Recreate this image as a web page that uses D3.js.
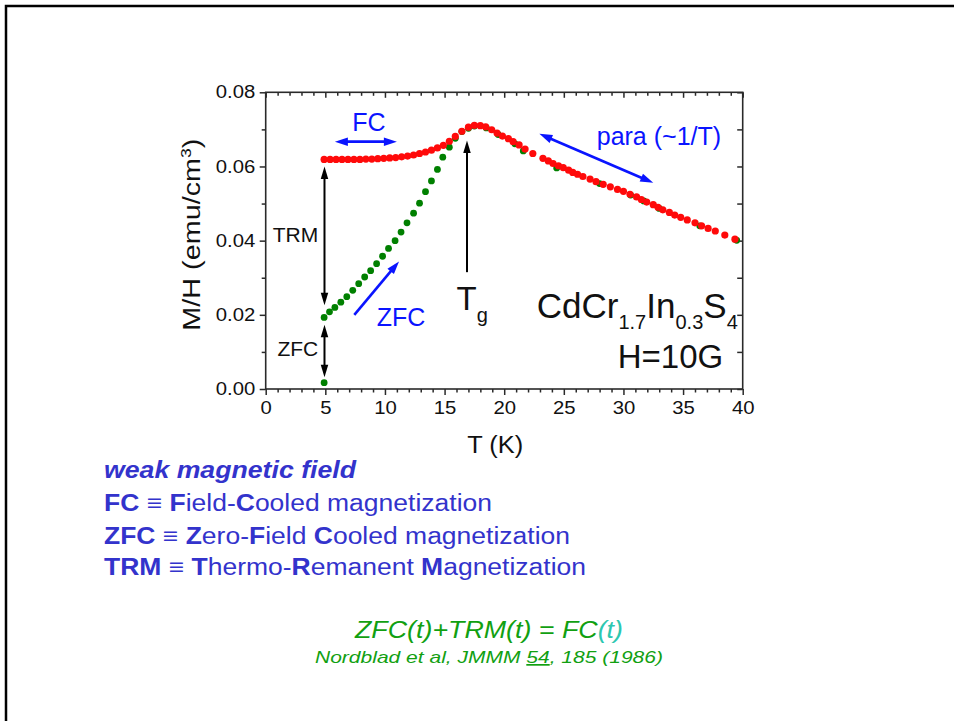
<!DOCTYPE html>
<html>
<head>
<meta charset="utf-8">
<script src="https://cdn.jsdelivr.net/npm/d3@7"></script>
<style>
  body { margin: 0; background: #fff; }
  svg { display: block; font-family: Arial, "Liberation Sans", sans-serif; }
</style>
</head>
<body>
<svg id="chart" width="954" height="721"></svg>
<script>
// Field-cooled magnetization M/H (emu/cm^3) vs temperature T (K)
const fcT = [4.9, 5.4, 5.9, 6.4, 6.9, 7.4, 7.9, 8.4, 8.9, 9.4,
  9.9, 10.4, 10.9, 11.4, 11.9, 12.4, 12.9, 13.4, 13.9, 14.4,
  14.9, 15.4, 15.9, 16.45, 17.0, 17.5, 18.0, 18.45, 18.95, 19.4,
  19.85, 20.35, 20.75, 21.25, 21.75, 22.4, 23.25, 23.7, 24.1, 24.55,
  24.95, 25.4, 25.75, 26.15, 26.6, 27.2, 27.7, 28.3, 28.9, 29.5,
  30.0, 30.55, 31.1, 31.5, 31.95, 32.5, 32.9, 33.3, 33.85, 34.3,
  34.8, 35.35, 36.0, 36.55, 37.1, 37.7, 38.5, 39.35];
const fcM = [0.0619, 0.0619, 0.0619, 0.0619, 0.0619, 0.0619, 0.0619, 0.0620, 0.0620, 0.0621,
  0.0622, 0.0623, 0.0624, 0.0626, 0.0628, 0.0631, 0.0635, 0.0639, 0.0644, 0.0650,
  0.0657, 0.0668, 0.0681, 0.0695, 0.0706, 0.0711, 0.0710, 0.0707, 0.0699, 0.0690,
  0.0682, 0.0675, 0.0667, 0.0658, 0.0647, 0.0635, 0.0622, 0.0615, 0.0608, 0.0602,
  0.0597, 0.0590, 0.0584, 0.0579, 0.0573, 0.0566, 0.0559, 0.0552, 0.0545, 0.0538,
  0.0533, 0.0525, 0.0518, 0.0511, 0.0504, 0.0497, 0.0490, 0.0483, 0.0476, 0.0469,
  0.0463, 0.0456, 0.0448, 0.0440, 0.0433, 0.0426, 0.0415, 0.0404];

// Zero-field-cooled magnetization
const zfcT = [4.9, 4.9, 5.35, 5.8, 6.3, 6.8, 7.3, 7.8, 8.3, 8.8,
  9.3, 9.8, 10.3, 10.85, 11.35, 11.85, 12.4, 12.9, 13.4, 13.9,
  14.4, 14.85, 15.4, 15.9, 16.45, 17.0, 17.5, 18.5, 19.5, 20.9,
  21.6, 24.4, 28.0, 30.6, 31.7, 33.0, 36.4, 39.5];
const zfcM = [0.0017, 0.0193, 0.0208, 0.0220, 0.0234, 0.0249, 0.0266, 0.0284, 0.0302, 0.0319,
  0.0338, 0.0358, 0.0379, 0.0400, 0.0423, 0.0448, 0.0474, 0.0501, 0.0532, 0.0561,
  0.0592, 0.0625, 0.0652, 0.0676, 0.0694, 0.0703, 0.0709, 0.0704, 0.0686, 0.0661,
  0.0642, 0.0596, 0.0554, 0.0523, 0.0507, 0.0487, 0.0440, 0.0401];

const xMajor = [0, 5, 10, 15, 20, 25, 30, 35, 40];
const yMajor = [0.00, 0.02, 0.04, 0.06, 0.08];
const yMinor = [0.01, 0.03, 0.05, 0.07];

const svg = d3.select("#chart");

// slide frame (top and left edges)
svg.append("path")
  .attr("d", "M6,721V6H954")
  .attr("fill", "none").attr("stroke", "#000").attr("stroke-width", 2.5);

const x = d3.scaleLinear().domain([0, 40]).range([265.7, 742.7]);
const y = d3.scaleLinear().domain([0, 0.08]).range([389, 92.3]);

const axisColor = "#2a2a2a";
const tickFont = 17.5;

function styleAxis(sel) {
  sel.select(".domain").remove();
  sel.selectAll(".tick line").attr("stroke", axisColor).attr("stroke-width", 1.5);
  sel.selectAll(".tick text")
    .attr("fill", "#111")
    .style("font-size", tickFont + "px")
    .style("font-family", "Arial, 'Liberation Sans', sans-serif")
    .each(function () {
      // slightly widened numerals
      const w = this.getComputedTextLength();
      if (w > 0) d3.select(this).attr("textLength", w * 1.16).attr("lengthAdjust", "spacingAndGlyphs");
    });
}

const minorX = d3.range(0, 41, 1).filter(d => d % 5 !== 0);

// bottom axis
svg.append("g").attr("transform", `translate(0,${y(0)})`)
  .call(d3.axisBottom(x).tickValues(xMajor).tickSize(6).tickPadding(7).tickFormat(d3.format("d")))
  .call(styleAxis);
svg.append("g").attr("transform", `translate(0,${y(0)})`)
  .call(d3.axisBottom(x).tickValues(minorX).tickSize(3.5).tickFormat(""))
  .call(styleAxis);
// top axis (inward ticks)
svg.append("g").attr("transform", `translate(0,${y(0.08)})`)
  .call(d3.axisTop(x).tickValues(xMajor).tickSize(-5.5).tickFormat(""))
  .call(styleAxis);
svg.append("g").attr("transform", `translate(0,${y(0.08)})`)
  .call(d3.axisTop(x).tickValues(minorX).tickSize(-3.5).tickFormat(""))
  .call(styleAxis);
// left axis
svg.append("g").attr("transform", `translate(${x(0)},0)`)
  .call(d3.axisLeft(y).tickValues(yMajor).tickSize(6).tickPadding(4.5).tickFormat(d3.format(".2f")))
  .call(styleAxis);
svg.append("g").attr("transform", `translate(${x(0)},0)`)
  .call(d3.axisLeft(y).tickValues(yMinor).tickSize(4).tickFormat(""))
  .call(styleAxis);
// right axis (inward ticks)
svg.append("g").attr("transform", `translate(${x(40)},0)`)
  .call(d3.axisRight(y).tickValues(yMajor.concat(yMinor)).tickSize(-5.5).tickFormat(""))
  .call(styleAxis);

// plot frame
svg.append("rect")
  .attr("x", x(0)).attr("y", y(0.08))
  .attr("width", x(40) - x(0)).attr("height", y(0) - y(0.08))
  .attr("fill", "none").attr("stroke", axisColor).attr("stroke-width", 1.6);

// axis titles
svg.append("text")
  .attr("x", (x(0) + x(40)) / 2 - 9).attr("y", 453)
  .attr("text-anchor", "middle").style("font-size", "23px").attr("fill", "#111")
  .attr("textLength", 56).attr("lengthAdjust", "spacingAndGlyphs")
  .text("T (K)");

const yl = svg.append("text")
  .attr("transform", `translate(200,${(y(0) + y(0.08)) / 2 - 6}) rotate(-90)`)
  .attr("text-anchor", "middle").style("font-size", "23px").attr("fill", "#111")
  .attr("textLength", 192).attr("lengthAdjust", "spacingAndGlyphs");
yl.append("tspan").text("M/H (emu/cm");
yl.append("tspan").attr("dy", -9).style("font-size", "14px").text("3");
yl.append("tspan").attr("dy", 9).text(")");

// data points
svg.append("g").selectAll("circle")
  .data(zfcT.map((t, i) => [t, zfcM[i]]))
  .join("circle")
  .attr("cx", d => x(d[0])).attr("cy", d => y(d[1])).attr("r", 3.4)
  .attr("fill", "#008000");
svg.append("g").selectAll("circle")
  .data(fcT.map((t, i) => [t, fcM[i]]))
  .join("circle")
  .attr("cx", d => x(d[0])).attr("cy", d => y(d[1])).attr("r", 3.6)
  .attr("fill", "#ff0a0a");

// arrows with filled heads
function arrow(t1, m1, t2, m2, opt) {
  const x1 = x(t1), y1 = y(m1), x2 = x(t2), y2 = y(m2);
  const len = Math.hypot(x2 - x1, y2 - y1);
  const ux = (x2 - x1) / len, uy = (y2 - y1) / len;
  const hl = opt.headLen, hw = opt.headW / 2;
  const g = svg.append("g");
  const sx1 = opt.start ? x1 + ux * hl * 0.8 : x1, sy1 = opt.start ? y1 + uy * hl * 0.8 : y1;
  const sx2 = opt.end ? x2 - ux * hl * 0.8 : x2, sy2 = opt.end ? y2 - uy * hl * 0.8 : y2;
  g.append("line").attr("x1", sx1).attr("y1", sy1).attr("x2", sx2).attr("y2", sy2)
    .attr("stroke", opt.color).attr("stroke-width", opt.width);
  function head(tx, ty, dx, dy) {
    const bx = tx - dx * hl, by = ty - dy * hl;
    g.append("path")
      .attr("d", `M${tx},${ty}L${bx - dy * hw},${by + dx * hw}L${bx + dy * hw},${by - dx * hw}Z`)
      .attr("fill", opt.color);
  }
  if (opt.end) head(x2, y2, ux, uy);
  if (opt.start) head(x1, y1, -ux, -uy);
}

const black = { color: "#000", width: 2, headLen: 12.5, headW: 7.5 };
const blue = { color: "#0a14ff", width: 2.6, headLen: 13, headW: 8.5 };

arrow(4.93, 0.0226, 4.93, 0.0600, { ...black, start: true, end: true });   // TRM
arrow(4.93, 0.0032, 4.93, 0.0173, { ...black, start: true, end: true });   // ZFC at 5 K
arrow(16.88, 0.0315, 16.88, 0.0670, { ...black, end: true });               // Tg
arrow(5.8, 0.0667, 11.0, 0.0667, { ...blue, start: true, end: true });      // FC
arrow(22.95, 0.0688, 32.5, 0.0556, { ...blue, start: true, end: true });    // para
arrow(7.43, 0.0200, 11.18, 0.0344, { ...blue, end: true });                 // ZFC rise

// annotation labels
function label(t, m, str, size, color, anchor) {
  return svg.append("text").attr("x", x(t)).attr("y", y(m))
    .attr("text-anchor", anchor || "start")
    .style("font-size", size + "px").attr("fill", color).text(str);
}
label(8.65, 0.0696, "FC", 25, "#0a14ff", "middle");
label(27.76, 0.0658, "para (~1/T)", 25, "#0a14ff");
label(9.31, 0.0170, "ZFC", 25, "#0a14ff");
label(4.41, 0.0397, "TRM", 21, "#111", "end");
label(4.41, 0.0089, "ZFC", 21, "#111", "end");

const tg = svg.append("text").attr("x", x(16.0)).attr("y", y(0.0213))
  .style("font-size", "33px").attr("fill", "#111");
tg.append("tspan").text("T");
tg.append("tspan").attr("dy", 12).style("font-size", "20px").text("g");

const cmp = svg.append("text").attr("x", x(22.73)).attr("y", y(0.0191))
  .style("font-size", "35px").attr("fill", "#111");
cmp.append("tspan").text("CdCr");
cmp.append("tspan").attr("dy", 11).style("font-size", "20px").text("1.7");
cmp.append("tspan").attr("dy", -11).text("In");
cmp.append("tspan").attr("dy", 11).style("font-size", "20px").text("0.3");
cmp.append("tspan").attr("dy", -11).text("S");
cmp.append("tspan").attr("dy", 11).style("font-size", "20px").text("4");

label(38.37, 0.00574, "H=10G", 33, "#111", "end");

// definitions below the chart
const defBlue = "#3333cc";
function defLine(yPos, width, parts, style) {
  const t = svg.append("text").attr("x", 104).attr("y", yPos)
    .attr("fill", defBlue).style("font-size", "23px")
    .attr("textLength", width).attr("lengthAdjust", "spacingAndGlyphs");
  if (style) t.style("font-style", style.italic ? "italic" : null);
  parts.forEach(([s, bold]) => t.append("tspan").style("font-weight", bold ? "bold" : "normal").text(s));
  return t;
}
defLine(478, 252, [["weak magnetic field", true]], { italic: true });
defLine(511, 388, [["FC", true], [" \u2261 ", false], ["F", true], ["ield-", false], ["C", true], ["ooled magnetization", false]]);
defLine(544, 466, [["ZFC", true], [" \u2261 ", false], ["Z", true], ["ero-", false], ["F", true], ["ield ", false], ["C", true], ["ooled magnetization", false]]);
defLine(575, 482, [["TRM", true], [" \u2261 ", false], ["T", true], ["hermo-", false], ["R", true], ["emanent ", false], ["M", true], ["agnetization", false]]);

const green = "#11a011";
const eq = svg.append("text").attr("x", 355).attr("y", 638)
  .attr("fill", green).style("font-size", "23px").style("font-style", "italic")
  .attr("textLength", 268).attr("lengthAdjust", "spacingAndGlyphs");
eq.append("tspan").text("ZFC(t)+TRM(t) = FC");
eq.append("tspan").attr("fill", "#2cc7b0").text("(t)");

const cite = svg.append("text").attr("x", 315).attr("y", 663)
  .attr("fill", green).style("font-size", "17px").style("font-style", "italic")
  .attr("textLength", 348).attr("lengthAdjust", "spacingAndGlyphs");
cite.append("tspan").text("Nordblad et al, JMMM ");
cite.append("tspan").style("text-decoration", "underline").text("54");
cite.append("tspan").text(", 185 (1986)");
</script>
</body>
</html>
